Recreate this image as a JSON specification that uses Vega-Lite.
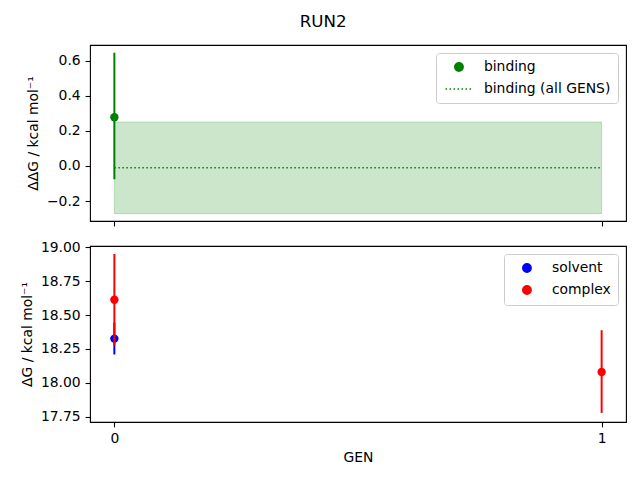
{
  "$schema": "https://vega.github.io/schema/vega-lite/v6.json",
  "background": "white",
  "padding": {"left": 19, "top": 13, "right": 10, "bottom": 5},
  "title": {"text": "RUN2", "fontSize": 16.7, "fontWeight": "normal", "font": "DejaVu Sans", "anchor": "middle", "frame": "bounds", "offset": 14, "color": "black"},
  "config": {
    "font": "DejaVu Sans",
    "view": {"stroke": "black", "strokeWidth": 1.1},
    "axis": {"grid": false, "domain": false, "tickColor": "black", "tickSize": 4.9, "tickWidth": 1.1, "labelFontSize": 13.9, "labelColor": "black", "labelPadding": 4.9, "labelOverlap": false, "titleFontSize": 13.9, "titleFontWeight": "normal", "titleColor": "black", "labelFont": "DejaVu Sans", "titleFont": "DejaVu Sans"},
    "axisY": {"labelOverlap": false},
    "axisQuantitative": {"labelOverlap": false},
    "legend": {"labelFontSize": 13.9, "labelFont": "DejaVu Sans", "labelColor": "black", "strokeColor": "#cccccc", "fillColor": "white", "padding": 7, "cornerRadius": 3, "offset": 8, "rowPadding": 6, "symbolSize": 70, "symbolOffset": 9, "labelOffset": 18, "title": null}
  },
  "spacing": 12,
  "resolve": {"scale": {"color": "independent", "y": "independent", "shape": "independent", "strokeDash": "independent"}, "legend": {"color": "independent"}},
  "vconcat": [
    {
      "width": 536,
      "height": 176,
      "layer": [
        {
          "data": {"values": [{"x0": 0, "x1": 1, "lo": -0.272, "hi": 0.251}]},
          "mark": {"type": "rect", "fill": "#008000", "fillOpacity": 0.2, "stroke": "#008000", "strokeOpacity": 0.2, "strokeWidth": 1},
          "encoding": {
            "x": {"field": "x0", "type": "quantitative", "scale": {"domain": [-0.05, 1.05], "nice": false, "zero": false}, "axis": {"values": [0, 1], "labels": false, "title": null}},
            "x2": {"field": "x1"},
            "y": {"field": "lo", "type": "quantitative", "scale": {"domain": [-0.314, 0.69], "nice": false, "zero": false}, "axis": {"values": [-0.2, 0, 0.2, 0.4, 0.6], "labelOverlap": false, "labelExpr": "replace(format(datum.value, '.1f'), '-', '\u2212')", "title": "\u0394\u0394G / kcal mol\u207b\u00b9", "titlePadding": 6}},
            "y2": {"field": "hi"}
          }
        },
        {
          "data": {"values": [{"x0": 0, "x1": 1, "mean": -0.01, "series": "binding (all GENS)"}]},
          "mark": {"type": "rule", "strokeWidth": 1.5},
          "encoding": {
            "x": {"field": "x0", "type": "quantitative"},
            "x2": {"field": "x1"},
            "y": {"field": "mean", "type": "quantitative"},
            "color": {"field": "series", "type": "nominal", "scale": {"domain": ["binding", "binding (all GENS)"], "range": ["#008000", "#008000"]}, "legend": {"orient": "top-right", "symbolStrokeWidth": 1.5, "symbolDash": [1.5, 2.5]}},
            "strokeDash": {"field": "series", "type": "nominal", "scale": {"domain": ["binding", "binding (all GENS)"], "range": [[1, 0], [1.5, 2.5]]}}
          }
        },
        {
          "data": {"values": [{"GEN": 0, "series": "binding", "value": 0.278, "lo": -0.076, "hi": 0.646}]},
          "layer": [
            {
              "mark": {"type": "rule", "strokeWidth": 2, "color": "#008000"},
              "encoding": {
                "x": {"field": "GEN", "type": "quantitative"},
                "y": {"field": "lo", "type": "quantitative"},
                "y2": {"field": "hi"}
              }
            },
            {
              "mark": {"type": "point", "filled": true, "opacity": 1, "size": 70},
              "encoding": {
                "x": {"field": "GEN", "type": "quantitative"},
                "y": {"field": "value", "type": "quantitative"},
                "color": {"field": "series", "type": "nominal"},
                "shape": {"field": "series", "type": "nominal", "scale": {"domain": ["binding", "binding (all GENS)"], "range": ["circle", "M-3.2,0H3.2"]}}
              }
            }
          ]
        }
      ]
    },
    {
      "width": 536,
      "height": 176,
      "data": {"values": [
        {"GEN": 0, "series": "solvent", "value": 18.326, "lo": 18.209, "hi": 18.443},
        {"GEN": 0, "series": "complex", "value": 18.613, "lo": 18.277, "hi": 18.951},
        {"GEN": 1, "series": "complex", "value": 18.079, "lo": 17.777, "hi": 18.388}
      ]},
      "encoding": {
        "x": {"field": "GEN", "type": "quantitative", "scale": {"domain": [-0.05, 1.05], "nice": false, "zero": false}, "axis": {"values": [0, 1], "format": "d", "title": "GEN", "titlePadding": 5}},
        "color": {"field": "series", "type": "nominal", "scale": {"domain": ["solvent", "complex"], "range": ["#0000ff", "#ff0000"]}, "legend": {"orient": "top-right"}}
      },
      "layer": [
        {
          "transform": [{"filter": "datum.series === 'solvent'"}],
          "mark": {"type": "rule", "strokeWidth": 2},
          "encoding": {
            "y": {"field": "lo", "type": "quantitative", "scale": {"domain": [17.71, 19.01], "nice": false, "zero": false}, "axis": {"values": [17.75, 18, 18.25, 18.5, 18.75, 19], "labelOverlap": false, "labelExpr": "format(datum.value, '.2f')", "title": "\u0394G / kcal mol\u207b\u00b9", "titlePadding": 6}},
            "y2": {"field": "hi"}
          }
        },
        {
          "transform": [{"filter": "datum.series === 'solvent'"}],
          "mark": {"type": "point", "filled": true, "opacity": 1, "size": 70, "shape": "circle"},
          "encoding": {"y": {"field": "value", "type": "quantitative", "axis": {"values": [17.75, 18, 18.25, 18.5, 18.75, 19], "labelOverlap": false, "labelExpr": "format(datum.value, '.2f')", "title": "\u0394G / kcal mol\u207b\u00b9", "titlePadding": 6}}}
        },
        {
          "transform": [{"filter": "datum.series === 'complex'"}],
          "mark": {"type": "rule", "strokeWidth": 2},
          "encoding": {
            "y": {"field": "lo", "type": "quantitative", "axis": {"values": [17.75, 18, 18.25, 18.5, 18.75, 19], "labelOverlap": false, "labelExpr": "format(datum.value, '.2f')", "title": "\u0394G / kcal mol\u207b\u00b9", "titlePadding": 6}},
            "y2": {"field": "hi"}
          }
        },
        {
          "transform": [{"filter": "datum.series === 'complex'"}],
          "mark": {"type": "point", "filled": true, "opacity": 1, "size": 70, "shape": "circle"},
          "encoding": {"y": {"field": "value", "type": "quantitative", "axis": {"values": [17.75, 18, 18.25, 18.5, 18.75, 19], "labelOverlap": false, "labelExpr": "format(datum.value, '.2f')", "title": "\u0394G / kcal mol\u207b\u00b9", "titlePadding": 6}}}
        }
      ]
    }
  ]
}
